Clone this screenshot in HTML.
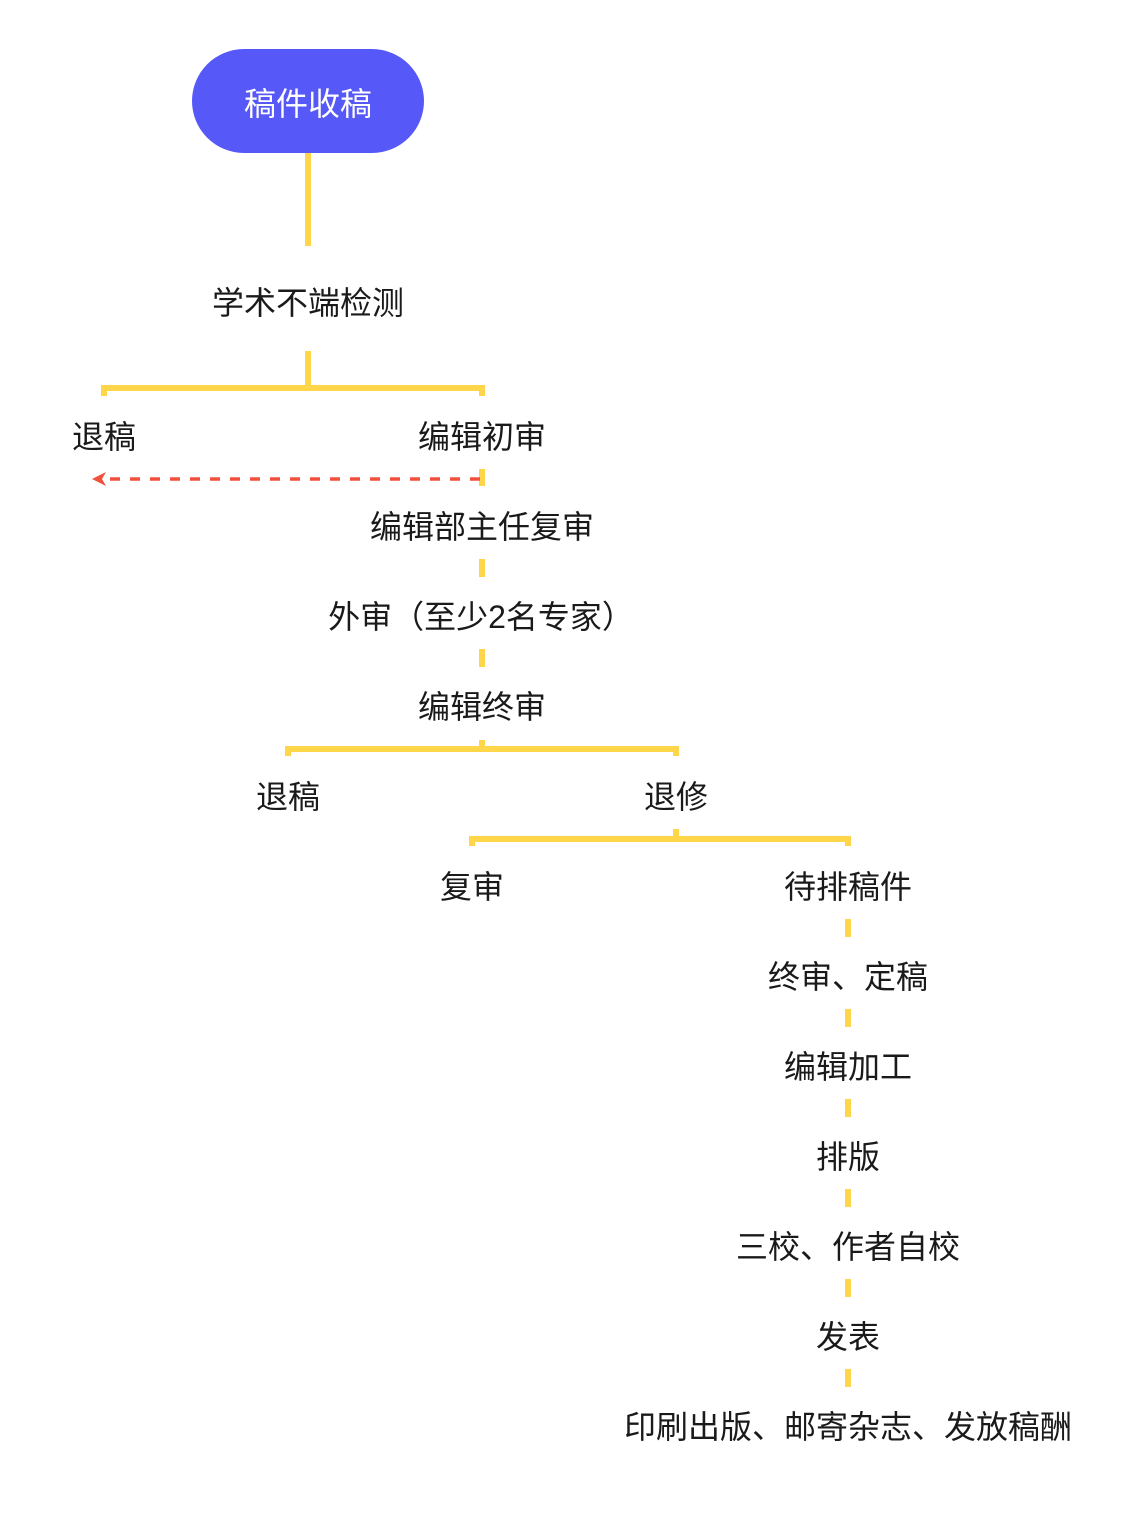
<!DOCTYPE html>
<html><head><meta charset="utf-8"><style>
body{margin:0;background:#fff;}
svg text{font-family:"Liberation Sans","Noto Sans CJK SC",sans-serif;font-size:32px;fill:#1a1a1a;text-anchor:middle;dominant-baseline:central;}
</style></head><body>
<svg width="1144" height="1510" viewBox="0 0 1144 1510" xmlns="http://www.w3.org/2000/svg">
<g stroke="#FFD54A" stroke-width="6" fill="none">
<line x1="308" y1="153" x2="308" y2="246"/>
<line x1="308" y1="351" x2="308" y2="388"/>
<polyline points="104,396 104,388 482,388 482,396"/>
<line x1="482" y1="469" x2="482" y2="486"/>
<line x1="482" y1="559" x2="482" y2="577"/>
<line x1="482" y1="649" x2="482" y2="667"/>
<line x1="482" y1="740" x2="482" y2="749"/>
<polyline points="288,756 288,749 676,749 676,756"/>
<line x1="676" y1="829" x2="676" y2="839"/>
<polyline points="472,846 472,839 848,839 848,846"/>
<line x1="848" y1="919" x2="848" y2="937"/>
<line x1="848" y1="1009" x2="848" y2="1027"/>
<line x1="848" y1="1099" x2="848" y2="1117"/>
<line x1="848" y1="1189" x2="848" y2="1207"/>
<line x1="848" y1="1279" x2="848" y2="1297"/>
<line x1="848" y1="1369" x2="848" y2="1387"/>
</g>
<line x1="480" y1="479" x2="104" y2="479" stroke="#F0503C" stroke-width="3.5" stroke-dasharray="10,10"/>
<polygon points="92,479 106,472 102,479 106,486" fill="#F0503C"/>
<rect x="192" y="49" width="232" height="104" rx="52" fill="#5659F7"/>
<text x="308" y="104" style="fill:#fff">稿件收稿</text>
<text x="308" y="303">学术不端检测</text>
<text x="104" y="437">退稿</text>
<text x="482" y="437">编辑初审</text>
<text x="482" y="527">编辑部主任复审</text>
<text x="481" y="617">外审（至少2名专家）</text>
<text x="482" y="707">编辑终审</text>
<text x="288" y="797">退稿</text>
<text x="676" y="797">退修</text>
<text x="472" y="887">复审</text>
<text x="848" y="887">待排稿件</text>
<text x="848" y="977">终审、定稿</text>
<text x="848" y="1067">编辑加工</text>
<text x="848" y="1157">排版</text>
<text x="848" y="1247">三校、作者自校</text>
<text x="848" y="1337">发表</text>
<text x="848" y="1427">印刷出版、邮寄杂志、发放稿酬</text>
</svg>
</body></html>
